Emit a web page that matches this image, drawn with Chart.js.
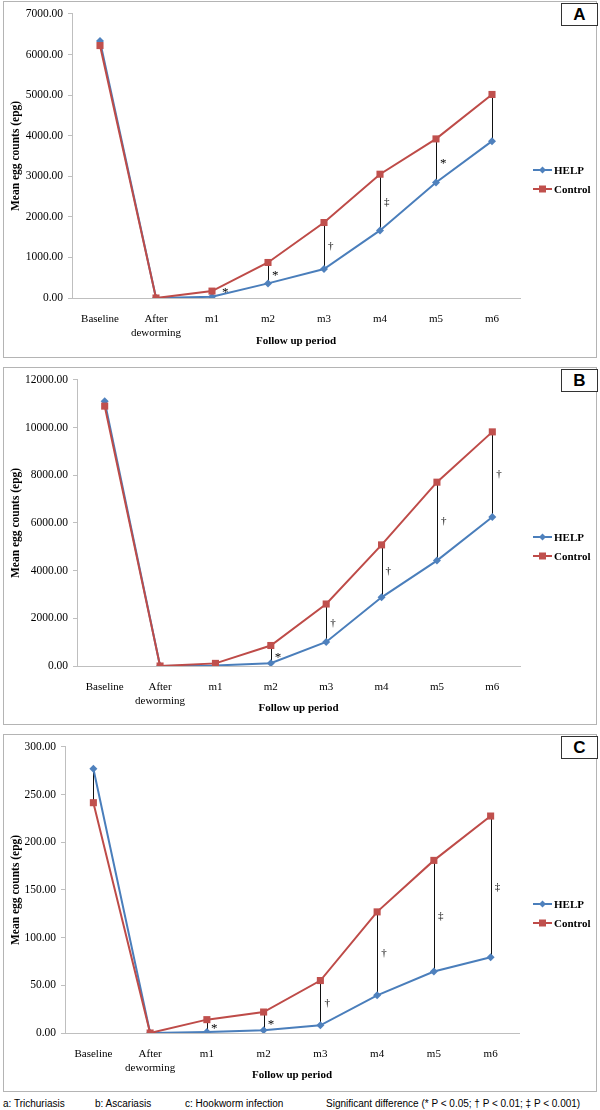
<!DOCTYPE html>
<html>
<head>
<meta charset="utf-8">
<script src="https://cdn.jsdelivr.net/npm/chart.js@4.4.0/dist/chart.umd.min.js"></script>
<style>
  body { margin: 0; background: #fff; width: 600px; height: 1110px; position: relative; overflow: hidden; }
  .panel { position: absolute; left: 3px; width: 592px; border: 1px solid #b4b4b4; background: #fff; }
  .panel canvas { display: block; }
  .tag { position: absolute; left: 557px; top: 1px; width: 35px; height: 21px; border: 1px solid #333;
         font: bold 17px "Liberation Sans", Arial, sans-serif; text-align: center; line-height: 22px; background: #fff; }
  .foot { position: absolute; top: 1098px; font: 10px "Liberation Sans", Arial, sans-serif; white-space: nowrap; color: #000; }
</style>
</head>
<body>
<div class="panel" style="top:1px;height:355px"><canvas id="chartA" width="592" height="355"></canvas><div class="tag">A</div></div>
<div class="panel" style="top:367px;height:356px"><canvas id="chartB" width="592" height="356"></canvas><div class="tag">B</div></div>
<div class="panel" style="top:734px;height:356px"><canvas id="chartC" width="592" height="356"></canvas><div class="tag">C</div></div>
<div class="foot" style="left:3px">a: Trichuriasis</div>
<div class="foot" style="left:95px">b: Ascariasis</div>
<div class="foot" style="left:185px">c: Hookworm infection</div>
<div class="foot" style="left:326px">Significant difference (* P &lt; 0.05; † P &lt; 0.01; ‡ P &lt; 0.001)</div>
<script>
// follow up period categories
const periods = ['Baseline', ['After', 'deworming'], 'm1', 'm2', 'm3', 'm4', 'm5', 'm6'];
const seriesNames = ['HELP', 'Control'];

// A: Trichuriasis
const helpA = [6330, 0, 30, 360, 715, 1665, 2845, 3865];
const controlA = [6220, 0, 170, 875, 1860, 3050, 3920, 5015];
const sigA = ['', '', '*', '*', '†', '‡', '*', ''];

// B: Ascariasis
const helpB = [11100, 0, 20, 120, 1010, 2880, 4420, 6250];
const controlB = [10900, 0, 110, 860, 2600, 5080, 7710, 9820];
const sigB = ['', '', '', '*', '†', '†', '†', '†'];

// C: Hookworm infection
const helpC = [277, 0, 1, 3, 8, 39.5, 64.5, 79.5];
const controlC = [241.5, 0, 14, 22, 55, 127, 181, 227.5];
const sigC = ['', '', '*', '*', '†', '†', '‡', '‡'];

const serif = "'Liberation Serif', 'Times New Roman', serif";
const blue = '#4A7EBB', blueMark = '#4F81BD';
const red = '#BE4B48', redMark = '#C0504D';

function drawMarker(ctx, style, x, y, r) {
    ctx.beginPath();
    if (style === 'rect') {
        ctx.rect(x - r, y - r, 2 * r, 2 * r);
    } else {
        ctx.moveTo(x, y - r); ctx.lineTo(x + r, y); ctx.lineTo(x, y + r); ctx.lineTo(x - r, y); ctx.closePath();
    }
    ctx.fill();
}

// high-low lines between the two groups plus the significance marks
const hiLo = {
    id: 'hiLo',
    beforeDatasetsDraw(chart) {
        const ctx = chart.ctx;
        const a = chart.getDatasetMeta(0).data, b = chart.getDatasetMeta(1).data;
        ctx.save();
        ctx.strokeStyle = '#111';
        ctx.lineWidth = 1;
        a.forEach((p, i) => {
            const x = Math.round(p.x) + 0.5;
            ctx.beginPath();
            ctx.moveTo(x, p.y);
            ctx.lineTo(x, b[i].y);
            ctx.stroke();
        });
        ctx.restore();
    },
    afterDatasetsDraw(chart, args, opts) {
        const ctx = chart.ctx;
        const a = chart.getDatasetMeta(0).data, b = chart.getDatasetMeta(1).data;
        ctx.save();
        ctx.fillStyle = '#000';
        ctx.textBaseline = 'middle';
        opts.sig.forEach((s, i) => {
            if (!s) return;
            ctx.font = (s === '*' ? '13px ' : '11px ') + serif;
            const gap = Math.abs(a[i].y - b[i].y);
            let y = (a[i].y + b[i].y) / 2 + (s === '*' ? 3 : 0);
            let x = a[i].x + 4;
            if (gap < 12) {
                // tight gap: nudge the mark off the lines
                y = Math.min(a[i].y, b[i].y) + 1;
                x += 6;
            }
            ctx.fillText(s, x, y);
        });
        ctx.restore();
    }
};

const sideLegend = {
    id: 'sideLegend',
    afterDraw(chart) {
        const ctx = chart.ctx;
        const cy = chart.height / 2;
        chart.data.datasets.forEach((ds, i) => {
            const y = Math.round(cy - 9.5 + i * 19);
            ctx.save();
            ctx.strokeStyle = ds.borderColor;
            ctx.lineWidth = 2;
            ctx.beginPath();
            ctx.moveTo(529, y);
            ctx.lineTo(548, y);
            ctx.stroke();
            ctx.fillStyle = ds.pointBackgroundColor;
            drawMarker(ctx, ds.pointStyle, 538.5, y, 3.5);
            ctx.fillStyle = '#000';
            ctx.font = 'bold 11px ' + serif;
            ctx.textBaseline = 'middle';
            ctx.fillText(ds.label, 550, y + 1);
            ctx.restore();
        });
    }
};

function makePanel(id, help, control, sig, yMax, yStep, yWidth, padRight, xHeight) {
    new Chart(document.getElementById(id), {
        type: 'line',
        data: {
            labels: periods,
            datasets: [
                {
                    label: seriesNames[0], data: help, order: 1,
                    borderColor: blue, borderWidth: 2, tension: 0,
                    pointStyle: 'rectRot', pointRadius: 4,
                    pointBackgroundColor: blueMark, pointBorderColor: blueMark, pointBorderWidth: 0
                },
                {
                    label: seriesNames[1], data: control, order: 0,
                    borderColor: red, borderWidth: 2, tension: 0,
                    pointStyle: 'rect', pointRadius: 5,
                    pointBackgroundColor: redMark, pointBorderColor: redMark, pointBorderWidth: 0
                }
            ]
        },
        options: {
            responsive: false,
            animation: false,
            layout: { padding: { left: 0, right: padRight, top: 10, bottom: 0 } },
            scales: {
                x: {
                    offset: true,
                    grid: { display: false },
                    border: { color: '#bfbfbf' },
                    ticks: { color: '#000', font: { family: serif, size: 11 }, padding: 7, maxRotation: 0, autoSkip: false },
                    title: { display: true, text: 'Follow up period', color: '#000',
                             font: { family: serif, size: 11, weight: 'bold' }, padding: { top: 0, bottom: 9 } },
                    afterFit(scale) { scale.height = xHeight; }
                },
                y: {
                    min: 0, max: yMax,
                    grid: { drawOnChartArea: false, tickLength: 4, color: '#bfbfbf' },
                    border: { color: '#bfbfbf' },
                    ticks: { stepSize: yStep, color: '#000', padding: 5, font: { family: serif, size: 11.5 },
                             callback: v => v.toFixed(2) },
                    title: { display: true, text: 'Mean egg counts (epg)', color: '#000',
                             font: { family: serif, size: 11.5, weight: 'bold' }, padding: { top: 5, bottom: 0 } },
                    afterFit(scale) { scale.width = yWidth; }
                }
            },
            plugins: {
                legend: { display: false },
                tooltip: { enabled: false },
                hiLo: { sig: sig }
            }
        },
        plugins: [hiLo, sideLegend]
    });
}

makePanel('chartA', helpA, controlA, sigA, 7000, 1000, 68, 76, 59);
makePanel('chartB', helpB, controlB, sigB, 12000, 2000, 73, 76, 58);
makePanel('chartC', helpC, controlC, sigC, 300, 50, 61, 77, 58);
</script>
</body>
</html>
